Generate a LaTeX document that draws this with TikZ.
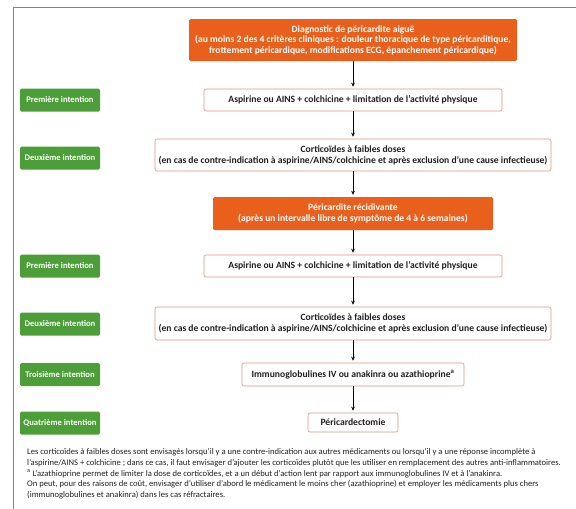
\documentclass[tikz,border=0pt]{standalone}
\usepackage{fontspec}
\setmainfont{Carlito}
\usetikzlibrary{arrows.meta}

\definecolor{orangeR}{HTML}{E8601C}
\definecolor{vertR}{HTML}{4C9F38}
\definecolor{bordR}{HTML}{DE9478}
\definecolor{cadreR}{HTML}{7D8C55}
\definecolor{texteR}{HTML}{231F20}

\begin{document}
\begin{tikzpicture}[x=1pt, y=-1pt,
  diag/.style = {fill=orangeR, rounded corners=1.5pt, text=white, font=\bfseries\fontsize{9.6}{10.6}\selectfont, align=center, inner sep=0pt},
  etape/.style = {draw=bordR, line width=0.6pt, fill=white, rounded corners=2pt, text=texteR, font=\bfseries\fontsize{9.6}{10.8}\selectfont, align=center, inner sep=0pt},
  intention/.style = {fill=vertR, rounded corners=1.5pt, text=white, font=\bfseries\fontsize{8.6}{9}\selectfont, minimum width=80pt, minimum height=23pt, inner sep=0pt},
  fleche/.style = {-{Stealth[length=4pt, width=3.6pt]}, semithick, shorten >=2pt}]

\useasboundingbox (0,0) rectangle (576,509);

% Cadre
\draw[cadreR, line width=0.9pt] (576,7) -- (13,7) -- (13,509);

% Etapes
\node[diag, minimum width=328pt, minimum height=42pt] (diag1) at (353,40) {Diagnostic de péricardite aiguë\\(au moins 2 des 4 critères cliniques : douleur thoracique de type péricarditique,\\frottement péricardique, modifications ECG, épanchement péricardique)};
\node[etape, minimum width=298pt, minimum height=22pt] (asp1) at (353,100) {Aspirine ou AINS + colchicine + limitation de l’activité physique};
\node[etape, minimum width=396pt, minimum height=32pt] (cort1) at (353,155) {Corticoïdes à faibles doses\\(en cas de contre-indication à aspirine/AINS/colchicine et après exclusion d’une cause infectieuse)};
\node[diag, minimum width=280pt, minimum height=33pt] (diag2) at (353,213.5) {Péricardite récidivante\\(après un intervalle libre de symptôme de 4 à 6 semaines)};
\node[etape, minimum width=298pt, minimum height=22pt] (asp2) at (353,266) {Aspirine ou AINS + colchicine + limitation de l’activité physique};
\node[etape, minimum width=396pt, minimum height=33pt] (cort2) at (353,323.5) {Corticoïdes à faibles doses\\(en cas de contre-indication à aspirine/AINS/colchicine et après exclusion d’une cause infectieuse)};
\node[etape, minimum width=222pt, minimum height=23pt] (immuno) at (353,374.5) {Immunoglobulines IV ou anakinra ou azathioprine\textsuperscript{a}};
\node[etape, minimum width=90pt, minimum height=19pt] (chir) at (353,422.5) {Péricardectomie};

% Intentions
\node[intention] (int1) at (60,100) {Première intention};
\node[intention] (int2) at (60,158) {Deuxième intention};
\node[intention] (int3) at (60,266) {Première intention};
\node[intention] (int4) at (60,324) {Deuxième intention};
\node[intention] (int5) at (60,374.5) {Troisième intention};
\node[intention] (int6) at (60,423) {Quatrième intention};

% Fleches
\draw[fleche] (diag1.south) -- (asp1.north);
\draw[fleche] (asp1.south) -- (cort1.north);
\draw[fleche] (cort1.south) -- (diag2.north);
\draw[fleche] (diag2.south) -- (asp2.north);
\draw[fleche] (asp2.south) -- (cort2.north);
\draw[fleche] (cort2.south) -- (immuno.north);
\draw[fleche] (immuno.south) -- (chir.north);

% Notes
\node[anchor=north west, align=left, inner sep=0pt, text=texteR, font=\fontsize{8.6}{10.9}\selectfont] (notes) at (27,448) {Les corticoïdes à faibles doses sont envisagés lorsqu’il y a une contre-indication aux autres médicaments ou lorsqu’il y a une réponse incomplète à\\l’aspirine/AINS + colchicine ; dans ce cas, il faut envisager d’ajouter les corticoïdes plutôt que les utiliser en remplacement des autres anti-inflammatoires.\\\textsuperscript{a} L’azathioprine permet de limiter la dose de corticoïdes, et a un début d’action lent par rapport aux immunoglobulines IV et à l’anakinra.\\On peut, pour des raisons de coût, envisager d’utiliser d’abord le médicament le moins cher (azathioprine) et employer les médicaments plus chers\\(immunoglobulines et anakinra) dans les cas réfractaires.};

\end{tikzpicture}
\end{document}
